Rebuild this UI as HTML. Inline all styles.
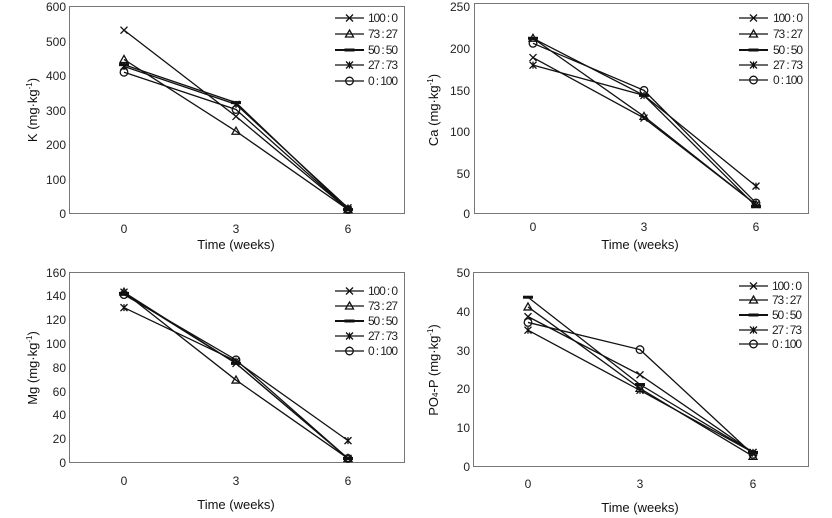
<!DOCTYPE html>
<html><head><meta charset="utf-8"><style>
body{margin:0;background:#fff;}
svg{display:block;font-family:"Liberation Sans",sans-serif;}
.t{font-size:12px;fill:#222;}
.ax{font-size:13px;fill:#111;}
</style></head><body>
<svg id="s" width="832" height="518" viewBox="0 0 832 518">
<g fill="none" stroke="#777" stroke-width="1">
<rect x="69.5" y="6.5" width="335" height="207"/>
<rect x="474.5" y="3.5" width="334" height="210"/>
<rect x="69.5" y="272.5" width="335" height="190"/>
<rect x="473.5" y="272.5" width="335" height="194"/>
</g>
<!-- K -->
<g class="t" text-anchor="end">
<text x="66" y="11">600</text><text x="66" y="46">500</text><text x="66" y="80">400</text><text x="66" y="115">300</text><text x="66" y="149">200</text><text x="66" y="184">100</text><text x="66" y="218">0</text>
</g>
<g class="t" text-anchor="middle"><text x="124" y="233">0</text><text x="236" y="233">3</text><text x="348" y="233">6</text></g>
<text class="ax" x="236" y="249" text-anchor="middle">Time (weeks)</text>
<text class="ax" transform="translate(37,110) rotate(-90)" text-anchor="middle">K (mg·kg<tspan dy="-5" font-size="8">-1</tspan><tspan dy="5">)</tspan></text>
<!-- Ca -->
<g class="t" text-anchor="end">
<text x="470" y="11">250</text><text x="470" y="53">200</text><text x="470" y="95">150</text><text x="470" y="136">100</text><text x="470" y="178">50</text><text x="470" y="218">0</text>
</g>
<g class="t" text-anchor="middle"><text x="533" y="231">0</text><text x="644" y="231">3</text><text x="756" y="231">6</text></g>
<text class="ax" x="640" y="249" text-anchor="middle">Time (weeks)</text>
<text class="ax" transform="translate(438,110) rotate(-90)" text-anchor="middle">Ca (mg·kg<tspan dy="-5" font-size="8">-1</tspan><tspan dy="5">)</tspan></text>
<!-- Mg -->
<g class="t" text-anchor="end">
<text x="66" y="277">160</text><text x="66" y="300">140</text><text x="66" y="324">120</text><text x="66" y="348">100</text><text x="66" y="372">80</text><text x="66" y="396">60</text><text x="66" y="419">40</text><text x="66" y="443">20</text><text x="66" y="467">0</text>
</g>
<g class="t" text-anchor="middle"><text x="124" y="485">0</text><text x="236" y="485">3</text><text x="348" y="485">6</text></g>
<text class="ax" x="236" y="509" text-anchor="middle">Time (weeks)</text>
<text class="ax" transform="translate(37,368) rotate(-90)" text-anchor="middle">Mg (mg·kg<tspan dy="-5" font-size="8">-1</tspan><tspan dy="5">)</tspan></text>
<!-- PO4 -->
<g class="t" text-anchor="end">
<text x="470" y="277">50</text><text x="470" y="316">40</text><text x="470" y="355">30</text><text x="470" y="393">20</text><text x="470" y="432">10</text><text x="470" y="471">0</text>
</g>
<g class="t" text-anchor="middle"><text x="528" y="488">0</text><text x="640" y="488">3</text><text x="753" y="488">6</text></g>
<text class="ax" x="640" y="512" text-anchor="middle">Time (weeks)</text>
<text class="ax" transform="translate(438,370) rotate(-90)" text-anchor="middle">PO<tspan font-size="8">4</tspan>-P (mg·kg<tspan dy="-5" font-size="8">-1</tspan><tspan dy="5">)</tspan></text>
<!-- legends -->
<g class="t">
<text x="368" y="22" textLength="30">100 : 0</text><text x="368" y="38" textLength="30">73 : 27</text><text x="368" y="54" textLength="30">50 : 50</text><text x="368" y="69" textLength="30">27 : 73</text><text x="368" y="85" textLength="30">0 : 100</text>
<text x="773" y="22" textLength="30">100 : 0</text><text x="773" y="38" textLength="30">73 : 27</text><text x="773" y="54" textLength="30">50 : 50</text><text x="773" y="69" textLength="30">27 : 73</text><text x="773" y="84" textLength="30">0 : 100</text>
<text x="368" y="295" textLength="30">100 : 0</text><text x="368" y="310" textLength="30">73 : 27</text><text x="368" y="325" textLength="30">50 : 50</text><text x="368" y="340" textLength="30">27 : 73</text><text x="368" y="355" textLength="30">0 : 100</text>
<text x="772" y="290" textLength="30">100 : 0</text><text x="772" y="304" textLength="30">73 : 27</text><text x="772" y="319" textLength="30">50 : 50</text><text x="772" y="334" textLength="30">27 : 73</text><text x="772" y="348" textLength="30">0 : 100</text>
</g>
<g id="d"></g>
</svg>
<script>
var g=document.getElementById('d'),NS='http://www.w3.org/2000/svg';
function el(t,a){var e=document.createElementNS(NS,t);for(var k in a)e.setAttribute(k,a[k]);g.appendChild(e);return e;}
function mk(m,x,y){var s=3.5,st={stroke:'#111','stroke-width':1.3,fill:'none'};
if(m==0){el('path',Object.assign({d:`M${x-s} ${y-s}L${x+s} ${y+s}M${x-s} ${y+s}L${x+s} ${y-s}`},st));}
else if(m==1){el('path',Object.assign({d:`M${x} ${y-4}L${x+4} ${y+3}L${x-4} ${y+3}Z`,fill:'#fff'},st));}
else if(m==2){el('path',{d:`M${x-5} ${y}L${x+5} ${y}`,stroke:'#111','stroke-width':3});}
else if(m==3){el('path',Object.assign({d:`M${x-s} ${y-s}L${x+s} ${y+s}M${x-s} ${y+s}L${x+s} ${y-s}M${x} ${y-s}L${x} ${y+s}`},st));}
else{el('circle',Object.assign({cx:x,cy:y,r:3.8,fill:'#fff'},st));}}
var P=[
{xs:[124,236,348],y0:213,y1:6,max:600,lx:[335,364],ly:[18,34,50,65,81],
d:[[530,280,10],[445,237,10],[430,320,10],[425,315,15],[408,300,10]]},
{xs:[533,644,756],y0:213,y1:3,max:250,lx:[739,768],ly:[18,34,50,65,80],
d:[[185,113,10],[208,115,10],[208,140,8],[176,140,32],[202,146,12]]},
{xs:[124,236,348],y0:462,y1:272,max:160,lx:[335,364],ly:[291,306,321,336,351],
d:[[143,83,3],[143,69,3],[142,83,3],[130,85,18],[141,86,3]]},
{xs:[528,640,753],y0:466,y1:272,max:50,lx:[739,768],ly:[286,300,315,330,344],
d:[[38.5,23.5,3.5],[41,20,2.5],[43.5,21,3.5],[35,19.5,3.5],[37,30,3]]}];
P.forEach(function(p){p.d.forEach(function(r,i){
var pts=r.map(function(v,j){return [p.xs[j],p.y0-(p.y0-p.y1)*v/p.max];});
el('polyline',{points:pts.map(function(q){return q.join(',')}).join(' '),fill:'none',stroke:'#111','stroke-width':1.3});
pts.forEach(function(q){mk(i,q[0],q[1]);});
el('line',{x1:p.lx[0],x2:p.lx[1],y1:p.ly[i],y2:p.ly[i],stroke:'#111','stroke-width':i==2?2:1.3});
mk(i,(p.lx[0]+p.lx[1])/2,p.ly[i]);});});
</script>
</body></html>
